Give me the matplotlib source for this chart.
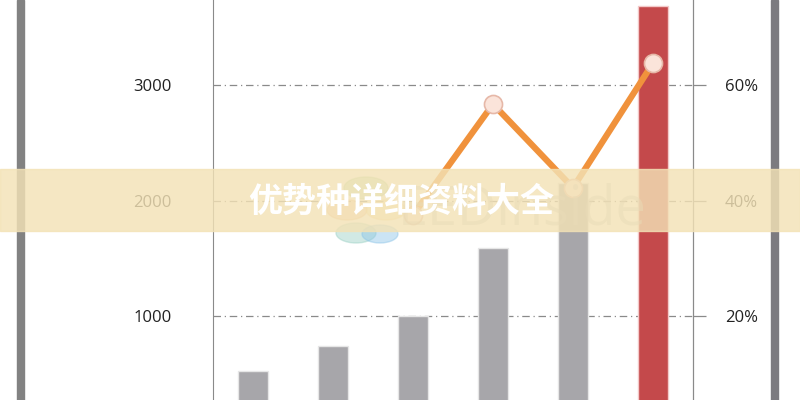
import matplotlib
matplotlib.use("Agg")
import matplotlib.pyplot as plt
from matplotlib.patches import Rectangle, Circle

# Data
categories = ["A", "B", "C", "D", "E", "F"]
bar_values = [520, 740, 1000, 1590, 2150, 3680]
bar_colors = ["#a7a6aa", "#a7a6aa", "#a7a6aa", "#a7a6aa", "#a7a6aa", "#c4494b"]
line_categories = ["C", "D", "E", "F"]
line_values = [37.5, 56.7, 42.2, 63.8]
left_ticks = [1000, 2000, 3000]
left_labels = ["1000", "2000", "3000"]
right_ticks = [20, 40, 60]
right_labels = ["20%", "40%", "60%"]
title = "优势种详细资料大全"

plt.rcParams['font.family'] = ['Open Sans', 'DejaVu Sans']

fig = plt.figure(figsize=(8, 4), dpi=100)
fig.patch.set_facecolor("white")

ax = fig.add_axes([213/800, 0, 480/800, 1])
ax.set_facecolor("white")
x = list(range(len(categories)))
for xi, v, c in zip(x, bar_values, bar_colors):
    edge = "#f3c9c9" if c == "#c4494b" else "#e6e6e6"
    ax.bar(xi, v, width=0.38, color=c, edgecolor=edge, linewidth=1.0, zorder=2)

ax.set_xlim(-0.5, 5.5)
ymin, ymax = 273, 3736
ax.set_ylim(ymin, ymax)
ax.set_yticks(left_ticks)
ax.set_yticklabels(left_labels, fontsize=12, color="#222222")
ax.tick_params(axis="y", length=0, pad=30)
ax.set_xticks([])
ax.grid(axis="y", color="#8a8a8a", linestyle=(0, (6, 3, 1, 3)), linewidth=0.9, zorder=1)
for s in ["top", "bottom"]:
    ax.spines[s].set_visible(False)
ax.spines["left"].set_color("#8a8a8a")
ax.spines["right"].set_color("#8a8a8a")

ax2 = ax.twinx()
ax2.set_ylim(ymin * 0.02, ymax * 0.02)
ax2.set_yticks(right_ticks)
ax2.set_yticklabels(right_labels, fontsize=12, color="#222222")
ax2.tick_params(axis="y", length=9, width=0.9, color="#8a8a8a", pad=14)
for s in ["top", "bottom", "left"]:
    ax2.spines[s].set_visible(False)
ax2.spines["right"].set_color("#8a8a8a")
lx = [categories.index(c) for c in line_categories]
ax2.plot(lx, line_values, color="#f0923c", linewidth=4.5, solid_capstyle="round",
         marker="o", markersize=13, markerfacecolor="#fbe4da",
         markeredgecolor="#e6b8a8", markeredgewidth=1.2, zorder=5)

# outer frame lines
fig.add_artist(Rectangle((17/800, 0), 7/800, 1, transform=fig.transFigure,
                         color="#828282", zorder=10))
fig.add_artist(Rectangle((771/800, 0), 7/800, 1, transform=fig.transFigure,
                         color="#7c7b80", zorder=10))

# watermark logo
for (cx, cy, r, col) in [(366, 188, 22, "#9ccf8a"), (347, 210, 20, "#f4b27a"),
                         (386, 210, 20, "#f7d98a"), (356, 233, 20, "#9ad0c4"),
                         (380, 234, 18, "#8cc4e8")]:
    fig.add_artist(Circle((cx/800, 1 - cy/400), r/800, transform=fig.transFigure,
                          color=col, alpha=0.45, zorder=11))
fig.text(398/800, 1 - 210/400, "EEDinside", fontsize=39, color="#bdbdbd",
         alpha=0.5, ha="left", va="center", zorder=11)

# banner
fig.add_artist(Rectangle((0, 1 - 231/400), 1, 62/400, transform=fig.transFigure,
                         color="#f3e2b6", alpha=0.82, zorder=12))
fig.text(401/800, 1 - 201/400, title, fontsize=24.5, color="white", fontweight="bold",
         ha="center", va="center", zorder=13,
         family=["Noto Sans CJK SC", "DejaVu Sans"])

fig.savefig("out.png", dpi=100, facecolor="white")
